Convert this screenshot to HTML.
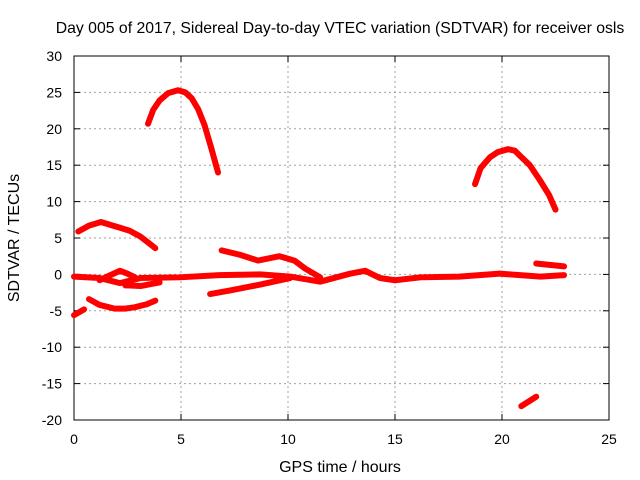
<!DOCTYPE html>
<html><head><meta charset="utf-8"><style>
body{margin:0;background:#fff}
svg{display:block;font-family:"Liberation Sans",sans-serif}
</style></head><body>
<svg width="640" height="480">
<g id="grid"></g>
<g id="axes"></g>
<g id="series"></g>
<text x="340" y="33" text-anchor="middle" font-size="15.8">Day 005 of 2017, Sidereal Day-to-day VTEC variation (SDTVAR) for receiver osls</text>
<text x="340" y="472" text-anchor="middle" font-size="16">GPS time / hours</text>
<text transform="translate(19,238) rotate(-90)" text-anchor="middle" font-size="16">SDTVAR / TECUs</text>
</svg>
<script>
const xTicks=[0,5,10,15,20,25];
const yTicks=[30,25,20,15,10,5,0,-5,-10,-15,-20];
const trackA_t=[0.2,0.7,1.26,1.7,2.15,2.6,3.1,3.5,3.8];
const trackA_v=[5.9,6.7,7.2,6.8,6.4,6.0,5.2,4.3,3.6];
const trackB_t=[3.46,3.7,4.0,4.4,4.86,5.2,5.5,5.8,6.1,6.4,6.73];
const trackB_v=[20.7,22.6,23.9,24.9,25.3,25.0,24.2,22.7,20.5,17.5,14.0];
const trackC_t=[18.74,19.0,19.44,19.8,20.28,20.6,20.84,21.3,21.78,22.2,22.5];
const trackC_v=[12.4,14.6,16.1,16.8,17.2,17.0,16.3,15.0,12.9,10.9,8.9];
const trackD_t=[20.9,21.6];
const trackD_v=[-18.1,-16.8];
const trackE_t=[0.7,1.2,1.9,2.4,2.85,3.4,3.8];
const trackE_v=[-3.4,-4.2,-4.7,-4.7,-4.5,-4.1,-3.6];
const trackF_t=[0,0.47];
const trackF_v=[-5.6,-4.8];
const band_t=[0,1.2,2.15,3.1,4.95,6.8,8.7,10.1,11.5,12.9,13.6,14.3,15,16.2,18,19.9,21.8,22.9];
const band_v=[-0.3,-0.5,-1.2,-0.5,-0.4,-0.1,0,-0.3,-1,0.1,0.5,-0.5,-0.8,-0.4,-0.3,0.1,-0.3,-0.1];
const hump_t=[1.2,1.7,2.15,2.5,2.85];
const hump_v=[-0.8,-0.1,0.5,0.1,-0.4];
const low_t=[2.4,3.1,4.0];
const low_v=[-1.5,-1.6,-1.1];
const trackG_t=[6.36,7.3,8.7,10.1];
const trackG_v=[-2.7,-2.2,-1.4,-0.5];
const trackH_t=[6.9,7.75,8.6,9.6,10.3,10.8,11.5];
const trackH_v=[3.3,2.7,1.9,2.5,1.9,0.8,-0.4];
const trackI_t=[21.6,22.9];
const trackI_v=[1.5,1.1];
const tracks=[[trackA_t,trackA_v],[trackB_t,trackB_v],[trackC_t,trackC_v],[trackD_t,trackD_v],[trackE_t,trackE_v],[trackF_t,trackF_v],[band_t,band_v],[hump_t,hump_v],[low_t,low_v],[trackG_t,trackG_v],[trackH_t,trackH_v],[trackI_t,trackI_v]];
const X0=74,X1=609,Y0=420,Y1=56;
const sx=t=>X0+(t-0)/25*(X1-X0);
const sy=v=>Y0-(v+20)/50*(Y0-Y1);
const NS="http://www.w3.org/2000/svg";
function mk(tag,attrs,parent){const e=document.createElementNS(NS,tag);for(const k in attrs)e.setAttribute(k,attrs[k]);parent.appendChild(e);return e;}
const grid=document.getElementById('grid'),axes=document.getElementById('axes'),ser=document.getElementById('series');
xTicks.forEach(t=>{
  const x=sx(t);
  if(t>0&&t<25){const g=mk('line',{x1:x,x2:x,y1:Y1,y2:Y0,stroke:'#a0a0a0','stroke-dasharray':'2,3'},grid);
  
  }
  mk('line',{x1:x,x2:x,y1:Y0,y2:Y0-6,stroke:'#000'},axes);
  mk('line',{x1:x,x2:x,y1:Y1,y2:Y1+6,stroke:'#000'},axes);
  const l=mk('text',{x:x,y:Y0+24,'text-anchor':'middle','font-size':'14'},axes);l.textContent=t;
  
  
});
yTicks.forEach(v=>{
  const y=sy(v);
  if(v>-20&&v<30){const g=mk('line',{x1:X0,x2:X1,y1:y,y2:y,stroke:'#a0a0a0','stroke-dasharray':'2,3'},grid);
  
  }
  mk('line',{x1:X0,x2:X0+6,y1:y,y2:y,stroke:'#000'},axes);
  mk('line',{x1:X1,x2:X1-6,y1:y,y2:y,stroke:'#000'},axes);
  const l=mk('text',{x:X0-12,y:y+5,'text-anchor':'end','font-size':'14'},axes);l.textContent=v;
  
  
});
const fr=mk('rect',{x:X0,y:Y1,width:X1-X0,height:Y0-Y1,fill:'none',stroke:'#000'},axes);


tracks.forEach(([ts,vs])=>{
  const pts=ts.map((t,i)=>sx(t)+','+sy(vs[i])).join(' ');
  const p=mk('polyline',{points:pts,fill:'none',stroke:'#ff0000','stroke-width':'6','stroke-linejoin':'round','stroke-linecap':'round'},ser);
  
  
});
</script>
</body></html>
